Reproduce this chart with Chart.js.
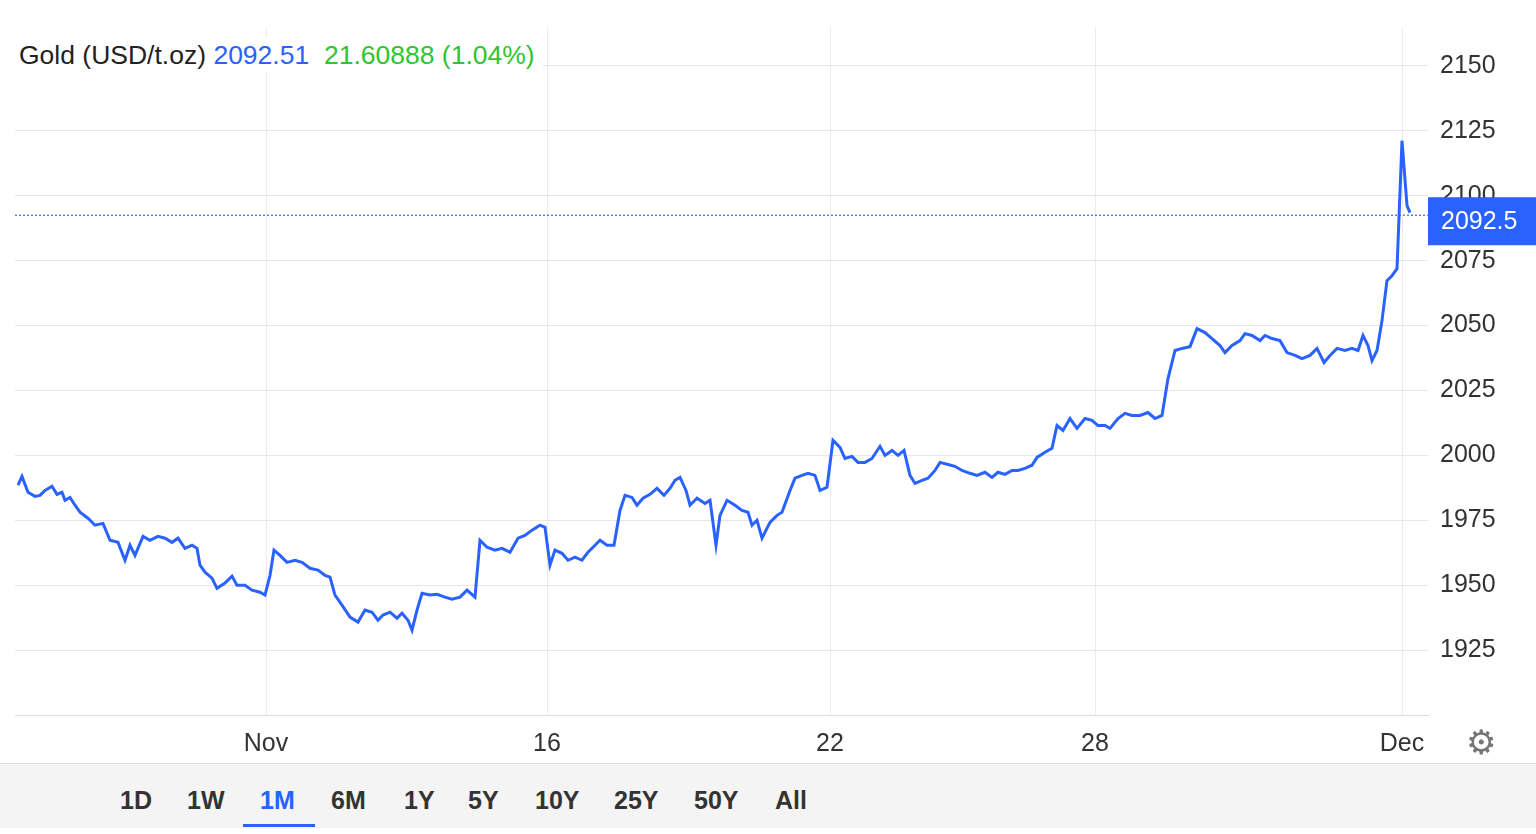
<!DOCTYPE html>
<html><head><meta charset="utf-8">
<script src="https://cdn.jsdelivr.net/npm/chart.js@4"></script>
<style>
body{margin:0;background:#fff;font-family:"Liberation Sans",Arial,sans-serif;}
#wrap{position:relative;width:1536px;height:763px;}
#legend{position:absolute;left:11px;top:38px;font-size:26.5px;background:#fff;padding:2px 8px;}
#bar{position:absolute;left:0;top:763px;width:1536px;height:64px;background:#f4f4f4;border-top:1px solid #e0e0e0;}
.b{position:absolute;top:22px;font-weight:bold;font-size:25px;color:#333;}
#gear{position:absolute;left:1466px;top:722px;font-size:34px;color:#777;}
</style></head><body>
<div id="wrap"><canvas id="c"></canvas>
<div id="legend"><span style="color:#222">Gold (USD/t.oz)</span> <span style="color:#2962ff">2092.51</span>&nbsp; <span style="color:#2ec52e">21.60888 (1.04%)</span></div>
<div id="gear">⚙</div>
</div>
<div id="bar">
<span class="b" style="left:120px">1D</span><span class="b" style="left:187px">1W</span>
<span class="b" style="left:260px;color:#2962ff">1M</span><div style="position:absolute;left:243px;top:60px;width:72px;height:3px;background:#2962ff"></div>
<span class="b" style="left:331px">6M</span><span class="b" style="left:404px">1Y</span><span class="b" style="left:468px">5Y</span>
<span class="b" style="left:535px">10Y</span><span class="b" style="left:614px">25Y</span><span class="b" style="left:694px">50Y</span><span class="b" style="left:775px">All</span>
</div>
<script>
const positions=[18,22,28,35,40,45,52,57,62,65,70,75,80,88,95,103,110,118,125,130,135,143,150,158,165,172,178,185,192,197,200,205,212,217,225,232,237,245,252,260,265,270,274,280,287,295,302,310,318,325,330,335,342,350,358,365,372,378,383,390,397,402,408,412,417,422,430,437,445,452,460,467,475,480,487,495,502,510,518,525,532,540,545,550,555,562,568,575,582,588,595,600,607,614,620,625,632,637,643,650,657,664,670,675,680,686,690,697,705,710,716,720,727,735,742,748,752,757,762,770,777,782,790,795,802,808,815,820,827,833,840,845,852,858,865,872,880,885,892,898,904,910,915,922,928,935,940,948,955,962,970,977,985,992,998,1005,1012,1018,1025,1032,1037,1045,1052,1057,1063,1070,1077,1085,1092,1098,1105,1110,1118,1125,1132,1140,1148,1155,1162,1168,1175,1182,1190,1197,1205,1212,1220,1225,1232,1240,1245,1252,1260,1265,1272,1280,1287,1295,1302,1310,1317,1324,1330,1337,1345,1352,1358,1363,1368,1372,1377,1382,1387,1392,1397,1402,1407,1410];
const prices=[1988.5,1991.9,1985.8,1984.2,1984.6,1986.5,1988.1,1985,1985.8,1982.7,1983.8,1980.8,1978.1,1975.8,1973.1,1973.8,1967.3,1966.5,1959.6,1965.4,1961.5,1968.8,1967.3,1968.8,1968.1,1966.5,1968.1,1964.2,1965.4,1964.2,1957.7,1955,1952.7,1948.8,1950.8,1953.5,1950,1950,1948.1,1947.3,1946.2,1953.8,1963.5,1961.5,1958.8,1959.6,1958.8,1956.5,1955.8,1953.8,1953.1,1946.2,1942.3,1937.7,1935.8,1940.4,1939.6,1936.5,1938.5,1939.6,1937.3,1939.2,1936.5,1932.7,1940.4,1946.9,1946.2,1946.5,1945.4,1944.6,1945.4,1948.1,1945.4,1967.3,1964.6,1963.5,1964.2,1962.7,1968.1,1969.2,1971.2,1973.1,1972.3,1957.7,1963.5,1962.3,1959.6,1960.8,1959.6,1962.7,1965.4,1967.3,1965.4,1965.4,1978.8,1984.6,1983.8,1980.8,1983.5,1985,1987.3,1984.6,1987.3,1990.4,1991.5,1986.5,1980.8,1983.5,1981.5,1982.7,1965.4,1976.9,1982.7,1980.8,1978.8,1978.1,1973.1,1975,1968.1,1974.2,1976.9,1978.1,1986.5,1991.2,1992.3,1993.1,1992.3,1986.5,1987.7,2005.8,2003.1,1998.8,1999.6,1997.3,1997.3,1998.8,2003.5,2000,2001.9,2000,2001.9,1992.3,1989.2,1990.4,1991.2,1994.2,1997.3,1996.5,1995.8,1994.2,1993.1,1992.3,1993.5,1991.5,1993.5,1992.7,1994.2,1994.2,1995,1996.2,1999.2,2001.2,2002.7,2011.5,2009.6,2014.2,2010.4,2014.2,2013.5,2011.5,2011.5,2010.4,2014.2,2016.2,2015.4,2015.4,2016.5,2014.2,2015.4,2029.6,2040.4,2041.2,2041.9,2048.8,2047.3,2045,2042.3,2039.6,2042.3,2044.2,2046.9,2046.2,2044.2,2046.2,2045,2044.2,2039.6,2038.5,2037.3,2038.5,2041.2,2035.8,2038.5,2041.2,2040.4,2041.2,2040.4,2046.2,2042.3,2036.5,2040.4,2051.9,2067.3,2069.2,2071.9,2121.2,2096.2,2093.5];
const xTickPos=[266,547,830,1095,1402];
const xTickLabels=['Nov','16','22','28','Dec'];
const yTicks=[1925,1950,1975,2000,2025,2050,2075,2100,2125,2150];
const lastPrice=2092.5;
const blue='#2962ff';
const lastLine={id:'last',afterDatasetsDraw(ch){
  const {ctx,chartArea:a,scales:{y}}=ch;const py=y.getPixelForValue(lastPrice);
  ctx.save();ctx.strokeStyle=blue;ctx.lineWidth=1.2;ctx.setLineDash([2,2]);
  ctx.beginPath();ctx.moveTo(a.left,py);ctx.lineTo(a.right,py);ctx.stroke();
  ctx.setLineDash([]);ctx.fillStyle=blue;ctx.fillRect(a.right,py-18,ch.width-a.right,48);
  ctx.fillStyle='#fff';ctx.font='25px "Liberation Sans",Arial';ctx.textBaseline='middle';
  ctx.fillText(lastPrice.toFixed(1),a.right+13,py+7);ctx.restore();}};
new Chart(document.getElementById('c'),{type:'line',
data:{datasets:[{data:positions.map((p,i)=>({x:p,y:prices[i]})),borderColor:blue,borderWidth:3,pointRadius:0,tension:0}]},
options:{responsive:true,maintainAspectRatio:false,animation:false,
layout:{padding:{left:15,top:0,right:0,bottom:0}},
plugins:{legend:{display:false},tooltip:{enabled:false}},
scales:{
x:{type:'linear',min:15,max:1428,
 afterBuildTicks:s=>{s.ticks=xTickPos.map(v=>({value:v}));},
 afterFit:s=>{s.height=48;},
 ticks:{callback:v=>xTickLabels[xTickPos.indexOf(v)]??'',color:'#333',font:{size:25,family:'"Liberation Sans",Arial'},maxRotation:0,autoSkip:false,padding:14},
 grid:{color:'#ececec',drawTicks:false},border:{color:'#ddd'}},
y:{position:'right',min:1900,max:2165,
 afterBuildTicks:s=>{s.ticks=yTicks.map(v=>({value:v}));},
 afterFit:s=>{s.width=108;},
 ticks:{callback:v=>String(v),color:'#333',font:{size:25,family:'"Liberation Sans",Arial'},padding:12},
 grid:{color:'#e6e6e6',drawTicks:false},border:{display:false}}}},
plugins:[lastLine]});
</script></body></html>
